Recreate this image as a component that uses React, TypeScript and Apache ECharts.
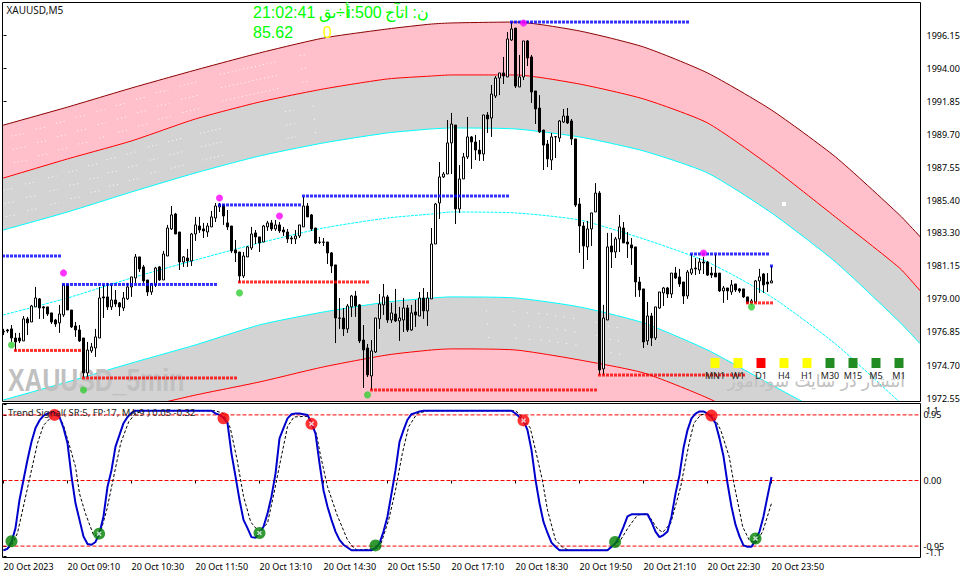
import React, { useEffect, useRef } from "react";
import * as echarts from "echarts";

// [open, close, low, high]
const ohlc: number[][] = [
[1976.85,1976.90,1976.65,1977.05],[1976.98,1976.92,1976.79,1977.05],[1977.05,1976.46,1976.20,1977.30],[1976.46,1976.20,1975.62,1976.79],
[1976.46,1976.27,1976.13,1976.79],[1976.27,1977.70,1976.27,1977.89],[1977.70,1977.44,1976.65,1977.83],[1977.50,1978.54,1977.50,1978.61],
[1978.48,1979.06,1978.48,1979.78],[1979.00,1978.41,1977.70,1979.06],[1978.48,1978.41,1977.70,1978.54],[1978.48,1978.02,1977.89,1978.48],
[1978.09,1977.50,1977.37,1978.09],[1977.63,1977.37,1977.18,1977.70],[1977.44,1978.02,1976.79,1978.61],[1977.96,1979.91,1977.83,1979.91],
[1979.91,1978.28,1978.28,1979.91],[1978.28,1977.18,1977.11,1978.28],[1977.24,1976.98,1976.53,1977.50],[1976.98,1976.27,1976.20,1977.30],
[1976.46,1974.19,1973.86,1976.46],[1974.19,1975.68,1973.92,1976.20],[1975.62,1975.88,1975.49,1976.13],[1975.81,1976.53,1975.23,1977.05],
[1976.46,1979.06,1976.46,1979.78],[1979.13,1979.06,1977.76,1979.91],[1979.13,1978.48,1978.28,1980.04],[1978.48,1978.93,1978.28,1979.91],
[1978.93,1978.67,1978.48,1979.58],[1978.74,1978.48,1977.89,1978.80],[1978.41,1979.06,1978.22,1979.45],[1979.00,1979.78,1978.93,1980.04],
[1979.78,1980.43,1979.13,1980.43],[1980.36,1981.73,1980.04,1981.92],[1981.73,1980.95,1980.75,1981.73],[1981.08,1980.17,1980.04,1981.21],
[1980.23,1979.45,1979.19,1980.23],[1979.45,1979.97,1979.26,1980.04],[1979.91,1981.01,1979.78,1981.08],[1981.08,1980.23,1980.17,1981.14],
[1980.23,1981.92,1980.23,1982.12],[1981.79,1983.61,1981.79,1983.81],[1983.55,1984.46,1983.48,1985.04],[1984.52,1983.22,1983.22,1984.59],
[1983.35,1981.40,1980.88,1983.35],[1981.40,1981.73,1981.08,1981.79],[1981.66,1981.47,1981.08,1982.25],[1981.47,1983.22,1981.14,1983.29],
[1983.22,1983.81,1982.77,1984.33],[1983.74,1983.48,1983.29,1984.33],[1983.55,1983.42,1982.96,1983.94],[1983.35,1983.74,1983.03,1983.94],
[1983.68,1984.33,1983.68,1984.72],[1984.26,1985.04,1984.00,1985.24],[1984.98,1985.11,1984.65,1985.24],[1985.11,1984.39,1983.81,1985.11],
[1983.94,1983.68,1983.48,1984.78],[1983.74,1982.12,1981.99,1983.74],[1982.18,1981.99,1981.40,1982.83],[1982.05,1980.49,1980.04,1982.05],
[1980.49,1981.79,1980.36,1982.05],[1981.73,1982.38,1981.73,1982.44],[1982.31,1983.22,1982.18,1983.68],[1983.29,1983.03,1982.57,1983.48],
[1983.03,1982.64,1982.05,1983.03],[1982.70,1983.74,1982.70,1983.81],[1983.68,1983.94,1983.42,1984.07],[1983.94,1983.55,1983.42,1984.13],
[1983.55,1983.81,1983.42,1984.13],[1983.81,1983.42,1983.29,1984.00],[1983.48,1983.35,1983.09,1983.68],[1983.35,1982.90,1982.64,1983.55],
[1982.96,1982.90,1982.57,1983.09],[1982.90,1983.09,1982.57,1983.48],[1983.09,1983.81,1982.96,1983.81],[1983.68,1985.04,1983.68,1985.63],
[1985.04,1984.33,1984.33,1985.24],[1984.46,1983.55,1983.42,1984.52],[1983.61,1982.64,1982.57,1983.61],[1982.70,1982.68,1982.57,1983.03],
[1982.70,1982.68,1982.44,1982.96],[1982.70,1981.99,1981.27,1982.70],[1981.99,1981.14,1980.68,1982.05],[1981.21,1977.76,1976.13,1981.21],
[1977.76,1977.74,1977.05,1979.06],[1977.76,1977.05,1976.59,1978.41],[1977.05,1978.54,1976.79,1978.67],[1978.48,1979.19,1977.83,1979.26],
[1979.19,1978.54,1977.83,1979.52],[1978.61,1976.27,1976.13,1978.67],[1976.33,1975.68,1973.21,1977.30],[1975.81,1974.06,1973.92,1976.07],
[1973.99,1975.62,1973.08,1976.33],[1975.55,1977.76,1975.49,1977.76],[1977.70,1978.67,1977.05,1979.32],[1978.61,1979.13,1977.96,1979.97],
[1979.13,1977.63,1977.44,1979.26],[1977.63,1978.09,1977.44,1978.74],[1978.02,1977.57,1977.50,1979.65],[1977.57,1977.76,1976.27,1978.48],
[1977.63,1978.41,1976.85,1979.06],[1978.41,1976.98,1976.85,1978.61],[1976.98,1978.09,1976.92,1978.61],[1978.15,1977.96,1977.18,1978.93],
[1977.89,1979.06,1977.89,1979.45],[1979.06,1978.22,1977.70,1979.71],[1978.22,1979.06,1977.24,1979.45],[1979.00,1982.57,1979.00,1983.61],
[1982.57,1985.17,1982.57,1985.24],[1985.24,1986.93,1984.20,1987.90],[1986.93,1987.12,1986.86,1987.25],[1987.12,1989.14,1987.12,1990.63],
[1989.14,1990.37,1987.12,1991.09],[1990.30,1984.85,1983.87,1990.30],[1984.85,1986.80,1984.59,1987.70],[1986.80,1988.23,1986.80,1988.49],
[1988.23,1989.53,1988.10,1990.83],[1989.53,1989.20,1987.45,1989.59],[1989.20,1988.68,1988.03,1989.66],[1988.68,1988.42,1987.97,1989.33],
[1988.42,1990.96,1987.97,1990.96],[1990.96,1990.70,1989.79,1991.15],[1990.76,1992.32,1989.53,1992.91],[1992.19,1993.36,1992.06,1993.49],
[1993.36,1993.69,1992.25,1993.69],[1993.69,1993.49,1992.97,1994.73],[1993.43,1995.90,1993.43,1996.35],[1995.83,1996.55,1995.77,1997.00],
[1996.61,1992.84,1992.71,1996.61],[1992.78,1993.43,1992.78,1994.86],[1993.43,1995.77,1993.23,1995.77],[1995.77,1994.66,1994.14,1995.83],
[1994.73,1992.45,1991.74,1994.86],[1992.52,1991.35,1990.37,1992.52],[1991.41,1989.85,1989.79,1992.25],[1989.98,1989.00,1987.38,1989.98],
[1989.07,1988.10,1987.57,1989.33],[1988.03,1989.53,1987.38,1989.79],[1989.53,1989.55,1988.16,1989.59],[1989.46,1990.57,1989.20,1990.63],
[1990.50,1990.89,1990.44,1991.35],[1990.89,1990.44,1990.37,1991.41],[1990.57,1989.40,1989.00,1990.70],[1989.40,1985.10,1984.98,1989.40],
[1985.17,1983.74,1981.99,1985.56],[1983.74,1982.44,1980.95,1984.00],[1982.38,1983.55,1981.53,1984.07],[1983.55,1984.59,1982.44,1984.59],
[1984.65,1985.88,1984.65,1986.53],[1985.88,1974.38,1974.05,1986.01],[1974.45,1977.76,1974.05,1978.61],[1977.63,1982.38,1977.63,1983.29],
[1982.44,1982.05,1981.01,1983.29],[1982.05,1982.90,1981.66,1983.03],[1982.90,1983.68,1982.05,1984.46],[1983.61,1982.64,1982.64,1984.00],
[1982.70,1982.57,1981.66,1983.35],[1982.51,1982.31,1981.21,1982.96],[1982.38,1980.10,1979.13,1982.38],[1980.10,1979.58,1979.13,1980.43],
[1979.65,1976.20,1975.81,1979.65],[1976.27,1977.89,1976.01,1978.80],[1977.89,1976.46,1975.94,1978.09],[1976.46,1978.48,1976.33,1978.48],
[1978.41,1979.45,1978.35,1979.45],[1979.39,1979.71,1978.54,1979.78],[1979.71,1979.32,1979.06,1979.78],[1979.32,1980.68,1979.06,1980.68],
[1980.68,1980.36,1980.30,1981.08],[1980.43,1979.97,1979.78,1980.95],[1980.10,1979.19,1978.67,1980.10],[1979.19,1980.75,1979.00,1980.88],
[1980.68,1980.95,1980.55,1981.92],[1981.01,1980.95,1980.55,1981.66],[1980.88,1981.40,1980.62,1981.66],[1981.40,1981.34,1980.62,1981.73],
[1981.40,1980.55,1980.49,1981.47],[1980.68,1980.55,1980.36,1981.08],[1980.68,1980.43,1980.43,1981.86],[1980.68,1979.52,1979.45,1980.68],
[1979.52,1979.71,1978.74,1979.84],[1979.71,1979.52,1978.93,1979.71],[1979.45,1979.91,1979.26,1980.23],[1979.97,1979.58,1979.45,1979.97],
[1979.65,1979.52,1979.39,1979.71],[1979.65,1979.13,1979.06,1979.65],[1979.13,1978.74,1978.67,1979.13],[1978.74,1978.87,1978.61,1979.00],
[1978.80,1980.17,1978.74,1980.23],[1980.17,1980.43,1979.39,1980.95],[1980.62,1979.91,1979.39,1980.68],[1980.10,1979.97,1979.45,1980.68],
[1980.04,1980.17,1980.04,1981.14],
];

const bandX = [-1,0,16,32,48,64,80,96,107,112,128,144,160,176,192,208,224,229,230];
const topEdge = [1990.23,1990.30,1991.47,1992.71,1993.88,1994.99,1995.96,1996.55,1996.87,1996.94,1997.00,1996.42,1995.38,1993.69,1991.28,1988.23,1984.46,1983.09,1982.8];
const upperRed = [1986.79,1986.86,1988.10,1989.27,1990.70,1991.80,1992.65,1993.30,1993.49,1993.56,1993.56,1992.97,1992.00,1990.44,1987.58,1984.32,1981.01,1979.58,1979.3];
const upperCyan = [1983.41,1983.48,1984.65,1985.95,1987.19,1988.29,1989.14,1989.79,1990.05,1990.11,1990.05,1989.53,1988.62,1987.19,1984.59,1981.40,1977.50,1976.13,1975.9];
const midCyan = [1977.89,1977.96,1979.06,1980.36,1981.53,1982.64,1983.61,1984.26,1984.52,1984.65,1984.59,1984.13,1982.90,1981.40,1979.13,1976.07,1972.30,1971.13,1970.9];
const lowerCyan = [1972.36,1972.43,1973.60,1974.83,1976.01,1977.31,1978.15,1978.80,1979.06,1979.13,1979.06,1978.48,1977.44,1975.68,1973.41,1971.13,1968.53,1967.55,1967.3];
const lowerRed = [1969.76,1969.83,1970.80,1971.78,1972.75,1973.60,1974.58,1975.36,1975.68,1975.75,1975.68,1975.03,1974.19,1972.56,1970.48,1967.88,1965.28,1963.98,1963.7];

// faint white dotted runs inside the bands: [bar, price, bar, price]
const pinkRuns = [[2.0,1989.59,5.4,1989.76],[8.1,1990.04,10.4,1990.15],[13.1,1990.41,15.4,1990.56],[18.1,1990.80,20.4,1990.91],[23.3,1991.19,25.4,1991.32],[28.1,1991.56,30.4,1991.71],[33.1,1991.97,35.4,1992.10],[38.1,1992.41,41.2,1992.58],[44.1,1992.84,48.3,1993.10],[54.1,1993.60,68.3,1994.42],[74.1,1994.81,75.4,1994.88]];
const greyRuns = [[0,1986.08,2.5,1986.19],[5.4,1986.47,8.3,1986.62],[11.2,1986.88,13.3,1986.99],[16.2,1987.25,18.7,1987.38],[21.2,1987.66,23.7,1987.77],[25.8,1988.07,28.3,1988.20],[30.8,1988.42,33.3,1988.57],[36.2,1988.89,38.3,1989.00],[41.2,1989.22,44.5,1989.44],[49.1,1989.76,54.5,1990.09],[70.4,1991.17,72.5,1991.28],[77.3,1991.54,78.3,1991.60]];
const lowerRuns = [[120.6,1978.23,121,1978.21],[127.4,1978.17,127.8,1978.15],[130.8,1978.10,131.2,1978.08],[133.7,1978.06,134.1,1978.04],[135.8,1978.00,136.2,1977.98],[137.9,1977.91,138.3,1977.89],[140,1977.84,140.4,1977.82],[142.4,1977.74,142.8,1977.72],[147.9,1977.48,148.3,1977.46],[151.2,1977.24,151.6,1977.22],[153.3,1977.15,153.7,1977.13]];
const runRowDrops = [0, 0.87, 1.73];

const blueLevels = [[0,14,1981.79],[15,53,1979.94],[54,74,1985.11],[75,126,1985.69],[127,171,1997.00],[172,191,1981.92],[192,192,1981.14]];
const redLevels = [[3,19,1975.65],[20,58,1973.86],[59,91,1980.10],[92,148,1973.08],[149,185,1974.05],[186,192,1978.74]];
const magentaDots = [[15,1980.69],[54,1985.56],[69,1984.39],[130,1996.94],[175,1981.99]];
const greenDots = [[2,1976.00],[20,1973.08],[59,1979.39],[91,1972.76],[187,1978.48]];

// trend line, as [first bar, values bar by bar]; the flat stretches are joined from one part to the next
const trendRise1 = [-1.01,-0.99,-0.89,-0.69,-0.28,0.01,0.30,0.56,0.76,0.87,0.94,0.97,0.98,0.98,0.92,0.76,0.54,0.06,-0.33,-0.57,-0.81,-0.92,-0.93,-0.89,-0.76,-0.52,-0.09,0.15,0.49,0.66,0.83,0.92,0.98,1.01];
const trendPart2 = [1.01,0.97,0.95,0.91,0.83,0.39,0.06,-0.28,-0.57,-0.69,-0.82,-0.83,-0.76,-0.67,-0.48,-0.23,0.10,0.61,0.76,0.90,0.96,0.97,0.97,0.96,0.95,0.83,0.68,0.25,-0.14,-0.38,-0.57,-0.74,-0.86,-0.93,-0.97,-1.01];
const trendPart3 = [-1.01,-0.98,-0.91,-0.74,-0.52,-0.19,0.15,0.56,0.73,0.88,0.96,0.98,1.00,1.01];
const trendPart4 = [1.01,0.97,0.92,0.87,0.73,0.44,0.01,-0.33,-0.60,-0.76,-0.90,-0.96,-1.01];
const trendPart5 = [-1.01,-0.96,-0.91,-0.81,-0.67,-0.52,-0.49,-0.49,-0.49,-0.49,-0.49,-0.60,-0.74,-0.82,-0.79,-0.74,-0.52,-0.19,0.08,0.47,0.73,0.90,0.97,1.00,1.00,0.97,0.92,0.83,0.61,0.35,-0.04,-0.38,-0.64,-0.81,-0.94,-0.96,-0.96,-0.86,-0.74,-0.52,-0.23,0.05];
const trendParts: [number, number[]][] = [[0,trendRise1],[52,trendPart2],[92,trendPart3],[127,trendPart4],[151,trendPart5]];

const signalLine = [[0,-1.01],[2,-0.95],[3.5,-0.76],[6,-0.11],[8.5,0.54],[10,0.80],[12.5,0.95],[14,0.92],[15,0.80],[16.3,0.54],[18,0.20],[19,-0.19],[20.5,-0.48],[22.5,-0.79],[24,-0.80],[25.8,-0.43],[28,0.18],[29.3,0.54],[31.3,0.85],[33,0.97],[35,1.01],[53,1.01],[55,0.97],[56.7,0.76],[58.4,0.30],[60,-0.23],[61.8,-0.60],[63.8,-0.74],[66,-0.62],[67.6,-0.19],[69.3,0.30],[71,0.78],[72.6,0.92],[76,0.93],[78.2,0.68],[79.3,0.35],[81,-0.09],[83.4,-0.50],[86,-0.86],[87.6,-0.98],[88.5,-1.01],[94,-0.98],[96.3,-0.57],[98,-0.14],[99.7,0.39],[101.3,0.78],[103.4,0.97],[106,1.01],[128,1.01],[129.7,0.92],[131.7,0.76],[133,0.44],[134.7,0.01],[136,-0.43],[138,-0.86],[140,-0.98],[141.5,-1.01],[151,-1.01],[154.3,-0.86],[156.3,-0.67],[158.5,-0.50],[161,-0.48],[163.5,-0.70],[164.8,-0.75],[166.8,-0.62],[169.3,-0.09],[171.4,0.54],[172.6,0.83],[174.3,0.95],[176,0.97],[177.6,0.92],[179.3,0.73],[181.4,0.35],[182.6,-0.04],[184.8,-0.67],[186.4,-0.86],[188,-0.91],[189.8,-0.74],[192,-0.33]];

const buyMarks = [[2,-0.88],[23.9,-0.77],[64,-0.76],[93,-0.94],[152.9,-0.89],[188,-0.84]];
const sellMarks = [[12.75,0.95],[55,0.90],[77,0.82],[130,0.87],[177,0.94]];
const crossMarks = [[23.9,-0.77],[64,-0.76],[77,0.82],[130,0.87],[188,-0.84]];
const signalLevels = [0.95, 0, -0.95];

const priceTicks = [1996.15,1994.00,1991.85,1989.70,1987.55,1985.40,1983.30,1981.15,1979.00,1976.85,1974.70,1972.55];
const oscTicks = [1.1,0.95,0,-0.95,-1.1];
const oscLabelValues = [0.95,0,-0.95];
const oscLabelTexts = ["0.95","0.00","-0.95"];
const timeTicks = [0,16,32,48,64,80,96,112,128,144,160,176,192];
const timeLabels = ["20 Oct 2023","20 Oct 09:10","20 Oct 10:30","20 Oct 11:50","20 Oct 13:10","20 Oct 14:30","20 Oct 15:50","20 Oct 17:10","20 Oct 18:30","20 Oct 19:50","20 Oct 21:10","20 Oct 22:30","20 Oct 23:50"];
const mtfNames = ["MN1","W1","D1","H4","H1","M30","M15","M5","M1"];
const mtfColors = ["#ffff00","#ffff00","#ff0000","#ffff00","#ffff00","#228b22","#228b22","#228b22","#228b22"];

const X_MIN = -0.25, X_MAX = 229.25;
const UI_FONT = '"Noto Sans", sans-serif';

const pair = (ys: number[]) => bandX.map((x, i) => [x, ys[i]]);
const levelDots = (levels: number[][]) => {
  const out: number[][] = [];
  levels.forEach(([a, b, p]) => { for (let i = a; i <= b; i++) out.push([i, p]); });
  return out;
};
const runData = (runs: number[][]) => {
  const out: any[] = [];
  runRowDrops.forEach((d, k) => runs.forEach(([a, p, b, q]) => {
    out.push([a + k * 0.3, p - d], [b + k * 0.3, q - d], [b + k * 0.3, "-"]);
  }));
  return out;
};

const band = (ys: number[], line: string, fill: string | null, dashed = false): any => ({
  type: "line", xAxisIndex: 0, yAxisIndex: 0, data: pair(ys), showSymbol: false, symbol: "none", smooth: 0.2, z: 1,
  lineStyle: { color: line, width: 1, type: dashed ? [3, 1] : "solid" },
  ...(fill ? { areaStyle: { color: fill, opacity: 1, origin: "start" } } : {}),
});
const runLine = (runs: number[][]): any => ({
  type: "line", xAxisIndex: 0, yAxisIndex: 0, data: runData(runs), showSymbol: false, symbol: "none", z: 1, connectNulls: false,
  lineStyle: { color: "#ffffff", width: 1, type: [1, 3] },
});

export default function App() {
  const ref = useRef<HTMLDivElement>(null);
  useEffect(() => {
    const chart = echarts.init(ref.current!, undefined, { renderer: "svg" });
    const green = (x: number, y: number, text: string, fill = "#00ff00") => ({
      type: "text", x, y, z: 21, silent: true, style: { text, fill, font: '16px "Liberation Sans"', verticalAlign: "middle" },
    });
    const edgeLabel = (y: number, text: string) => ({
      type: "text", x: 926, y, z: 21, silent: true, style: { text, fill: "#000", font: `9px ${UI_FONT}`, verticalAlign: "middle" },
    });
    const graphics: any[] = [
      { type: "text", x: 8, y: 381, scaleX: 0.8, z: 2, silent: true, style: { text: "XAUUSD_5min", fill: "#c0c0c0", font: 'bold 31px "Liberation Sans"', verticalAlign: "middle", align: "left" } },
      { type: "text", x: 905, y: 381, z: 2, silent: true, style: { text: "انتشار در سایت سودآموز", fill: "#c0c0c0", font: '17px "DejaVu Sans"', verticalAlign: "middle", align: "right" } },
      { type: "rect", z: 20, silent: true, shape: { x: 2.5, y: 2.5, width: 918, height: 399 }, style: { fill: "none", stroke: "#000", lineWidth: 1 } },
      { type: "rect", z: 20, silent: true, shape: { x: 2.5, y: 403.5, width: 918, height: 154 }, style: { fill: "none", stroke: "#000", lineWidth: 1 } },
      { type: "text", x: 6.5, y: 10, z: 21, silent: true, style: { text: "XAUUSD,M5", fill: "#111", font: `10px ${UI_FONT}`, verticalAlign: "middle" } },
      green(253, 12, "21:02:41"),
      green(319, 12, "أ÷ىق"),
      green(347, 12, "i:500"),
      green(385, 12, "ن: اتآج"),
      green(253, 32, "85.62"),
      green(323, 32, "0", "#ffff00"),
      { type: "text", x: 8, y: 412.5, z: 21, silent: true, style: { text: "Trend Signal( SR:5, FP:17, MA:9 ) 0.05 -0.32", fill: "#222", font: `9.5px ${UI_FONT}`, verticalAlign: "middle" } },
      { type: "rect", z: 4, silent: true, shape: { x: 782, y: 202, width: 4, height: 4 }, style: { fill: "#fff" } },
      edgeLabel(410, "1.1"),
      edgeLabel(552, "-1.1"),
    ];
    mtfNames.forEach((name, k) => {
      const cx = 715 + 23 * k;
      graphics.push({ type: "rect", z: 6, silent: true, shape: { x: cx - 4.5, y: 358, width: 9, height: 10 }, style: { fill: mtfColors[k] } });
      graphics.push({ type: "text", x: cx, y: 375, z: 6, silent: true, style: { text: name, fill: "#222", font: `9px ${UI_FONT}`, align: "center", verticalAlign: "middle" } });
    });

    const hidden = { show: false };
    chart.setOption({
      animation: false,
      backgroundColor: "#fff",
      grid: [
        { left: 2.5, top: 2.5, width: 918, height: 399, show: false },
        { left: 2.5, top: 403.5, width: 918, height: 154, show: false },
      ],
      xAxis: [
        { gridIndex: 0, type: "value", min: X_MIN, max: X_MAX, axisLine: hidden, axisTick: hidden, axisLabel: hidden, splitLine: hidden },
        {
          gridIndex: 1, type: "value", min: X_MIN, max: X_MAX, axisLine: hidden, splitLine: hidden,
          axisTick: { show: true, length: 3, customValues: timeTicks, lineStyle: { color: "#000" } },
          axisLabel: {
            show: true, customValues: timeTicks, align: "left", margin: 4, color: "#000", fontFamily: "Noto Sans", fontSize: 9,
            formatter: (v: number) => timeLabels[timeTicks.indexOf(v)] ?? "",
          },
        },
      ],
      yAxis: [
        {
          gridIndex: 0, type: "value", position: "right", min: 1972.33, max: 1998.27, axisLine: hidden, splitLine: hidden,
          axisTick: { show: true, length: 3, customValues: priceTicks, lineStyle: { color: "#000" } },
          axisLabel: { show: true, customValues: priceTicks, margin: 6, color: "#000", fontFamily: "Noto Sans", fontSize: 9, formatter: (v: number) => v.toFixed(2) },
        },
        {
          gridIndex: 1, type: "value", position: "right", min: -1.115, max: 1.115, axisLine: hidden, splitLine: hidden,
          axisTick: { show: true, length: 3, customValues: oscTicks, lineStyle: { color: "#000" } },
          axisLabel: { show: true, customValues: oscLabelValues, margin: 3, color: "#000", fontFamily: "Noto Sans", fontSize: 9, formatter: (v: number) => oscLabelTexts[oscLabelValues.indexOf(v)] ?? "" },
        },
      ],
      graphic: { elements: graphics },
      series: [
        band(topEdge, "#8b0000", "#ffc0cb"),
        band(upperRed, "#ff0000", "#d3d3d3"),
        band(upperCyan, "#00ffff", "#ffffff"),
        band(lowerCyan, "#00ffff", "#d3d3d3"),
        band(lowerRed, "#ff0000", "#ffc0cb"),
        band(midCyan, "#00ffff", null, true),
        runLine(pinkRuns),
        runLine(greyRuns),
        runLine(lowerRuns),
        {
          type: "candlestick", xAxisIndex: 0, yAxisIndex: 0, z: 3, clip: false, barWidth: 3,
          data: ohlc.map((c, i) => [i, ...c]),
          itemStyle: { color: "#fff", color0: "#000", borderColor: "#000", borderColor0: "#000", borderWidth: 1 },
        },
        { type: "scatter", xAxisIndex: 0, yAxisIndex: 0, z: 4, symbol: "rect", symbolSize: 3, data: levelDots(blueLevels), itemStyle: { color: "#0000ff" } },
        { type: "scatter", xAxisIndex: 0, yAxisIndex: 0, z: 4, symbol: "rect", symbolSize: 3, data: levelDots(redLevels), itemStyle: { color: "#ff0000" } },
        { type: "scatter", xAxisIndex: 0, yAxisIndex: 0, z: 4, symbol: "circle", symbolSize: 7, data: magentaDots, itemStyle: { color: "#ff00ff" } },
        { type: "scatter", xAxisIndex: 0, yAxisIndex: 0, z: 4, symbol: "circle", symbolSize: 7, data: greenDots, itemStyle: { color: "#32cd32" } },
        ...signalLevels.map((v) => ({
          type: "line", xAxisIndex: 1, yAxisIndex: 1, z: 2, showSymbol: false, symbol: "none",
          data: [[X_MIN, v], [X_MAX, v]], lineStyle: { color: "#ff0000", width: 1, type: [4, 2] },
        })),
        { type: "line", xAxisIndex: 1, yAxisIndex: 1, z: 3, showSymbol: false, symbol: "none", data: signalLine, lineStyle: { color: "#000", width: 1, type: [3, 2] } },
        {
          type: "line", xAxisIndex: 1, yAxisIndex: 1, z: 3, showSymbol: false, symbol: "none",
          data: trendParts.flatMap(([first, vals]) => vals.map((v, k) => [first + k, v])),
          lineStyle: { color: "#0000cd", width: 2 },
        },
        { type: "scatter", xAxisIndex: 1, yAxisIndex: 1, z: 4, symbol: "circle", symbolSize: 12, data: buyMarks, itemStyle: { color: "#008000" } },
        { type: "scatter", xAxisIndex: 1, yAxisIndex: 1, z: 4, symbol: "circle", symbolSize: 12, data: sellMarks, itemStyle: { color: "#ff0000" } },
        { type: "scatter", xAxisIndex: 1, yAxisIndex: 1, z: 5, symbol: "path://M0,2 L2,0 L5,3 L8,0 L10,2 L7,5 L10,8 L8,10 L5,7 L2,10 L0,8 L3,5 Z", symbolSize: 5, data: crossMarks, itemStyle: { color: "#fff" } },
      ],
    });
    return () => chart.dispose();
  }, []);
  return <div ref={ref} style={{ position: "fixed", left: 0, top: 0, width: 966, height: 578, background: "#fff" }} />;
}
